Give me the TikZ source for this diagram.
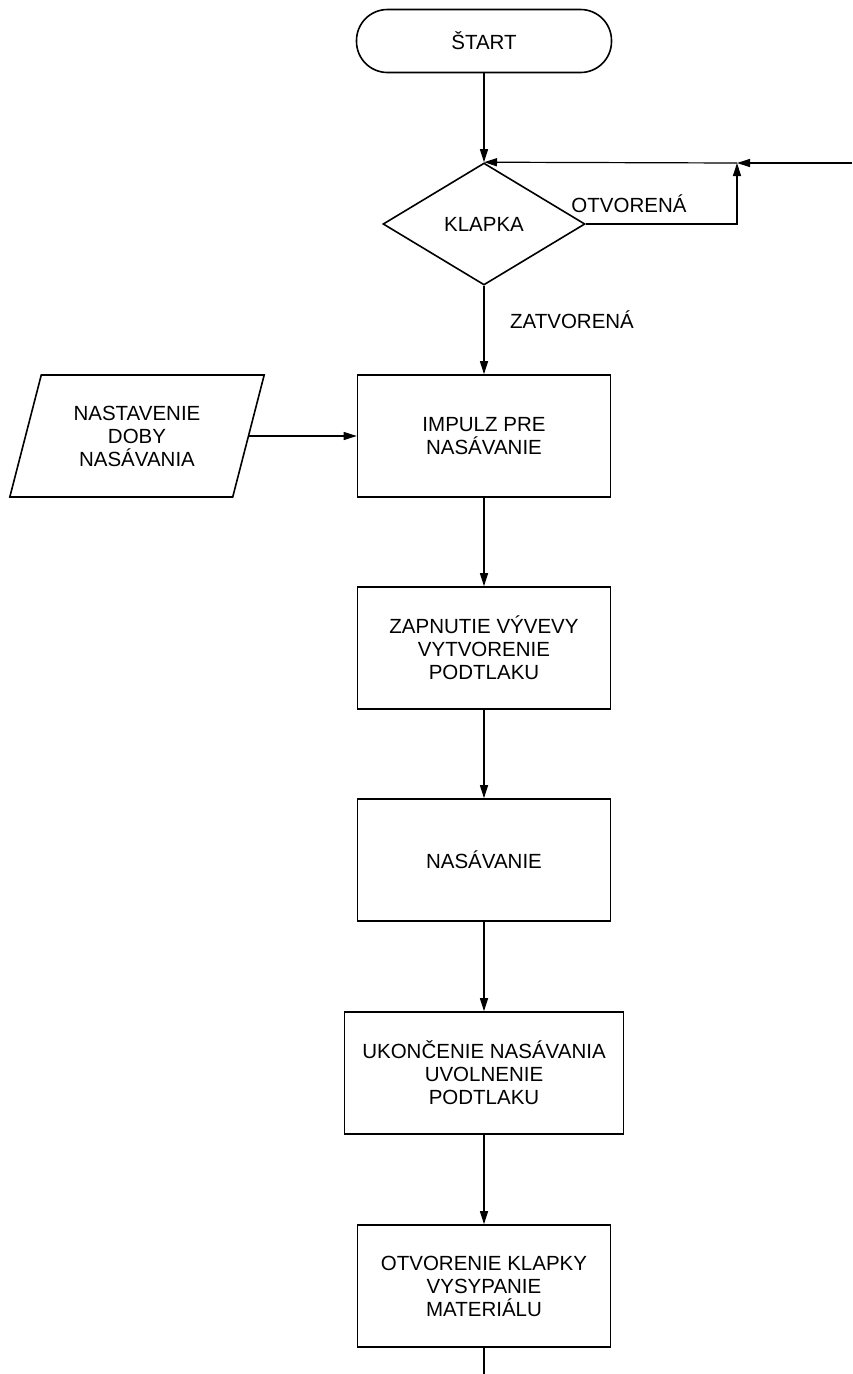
\documentclass[tikz,border=0pt]{standalone}
\usepackage{fontspec}
\setmainfont{Liberation Sans}
\usetikzlibrary{shapes.geometric,arrows.meta}

\begin{document}
\begin{tikzpicture}[x=1pt,y=-1pt,line width=1.2pt,
  font=\fontsize{20.5}{23}\selectfont,
  krok/.style={draw,line width=1.6pt,rectangle,minimum width=253pt,minimum height=122pt,align=center,inner sep=0pt},
  sipka/.style={-{Triangle[length=13pt,width=8pt]}}]
\useasboundingbox (0,0) rectangle (852,1374);
\node (start) [draw,line width=1.6pt,rectangle,rounded corners=31pt,minimum width=255pt,minimum height=63pt] at (484,41) {ŠTART};
\node (klapka) [draw,line width=1.6pt,diamond,aspect=1.656,minimum width=202pt,minimum height=122pt,inner sep=0pt] at (484,224) {KLAPKA};
\node (impulz) [krok] at (484,436) {IMPULZ PRE\\NASÁVANIE};
\node (doba) [draw,line width=1.6pt,trapezium,trapezium left angle=71,trapezium right angle=109,trapezium stretches=true,minimum width=255pt,minimum height=122pt,align=center,inner sep=0pt] at (137,436) {NASTAVENIE\\DOBY\\NASÁVANIA};
\node (vyveva) [krok] at (484,648) {ZAPNUTIE VÝVEVY\\VYTVORENIE\\PODTLAKU};
\node (nasavanie) [krok] at (484,860) {NASÁVANIE};
\node (ukoncenie) [krok,minimum width=279pt] at (484,1073) {UKONČENIE NASÁVANIA\\UVOLNENIE\\PODTLAKU};
\node (vysypanie) [krok] at (484,1286) {OTVORENIE KLAPKY\\VYSYPANIE\\MATERIÁLU};
\coordinate (vstup) at (852,163);
\coordinate (uzol) at (737,163);
\coordinate (koniec) at (484,1374);
\draw[sipka] (start) -- (klapka.north);
\draw[sipka] (vstup) -- (uzol);
\draw[sipka] (uzol) -- (klapka.north);
\draw[sipka] (klapka.east) -| (uzol);
\draw[sipka] (klapka.south) -- (impulz.north);
\draw[sipka] (doba.east) -- (impulz.west);
\draw[sipka] (impulz) -- (vyveva);
\draw[sipka] (vyveva) -- (nasavanie);
\draw[sipka] (nasavanie) -- (ukoncenie);
\draw[sipka] (ukoncenie) -- (vysypanie);
\draw (vysypanie) -- (koniec);
\node (otvorena) at (629,204) {OTVORENÁ};
\node (zatvorena) at (572,320) {ZATVORENÁ};
\end{tikzpicture}
\end{document}
